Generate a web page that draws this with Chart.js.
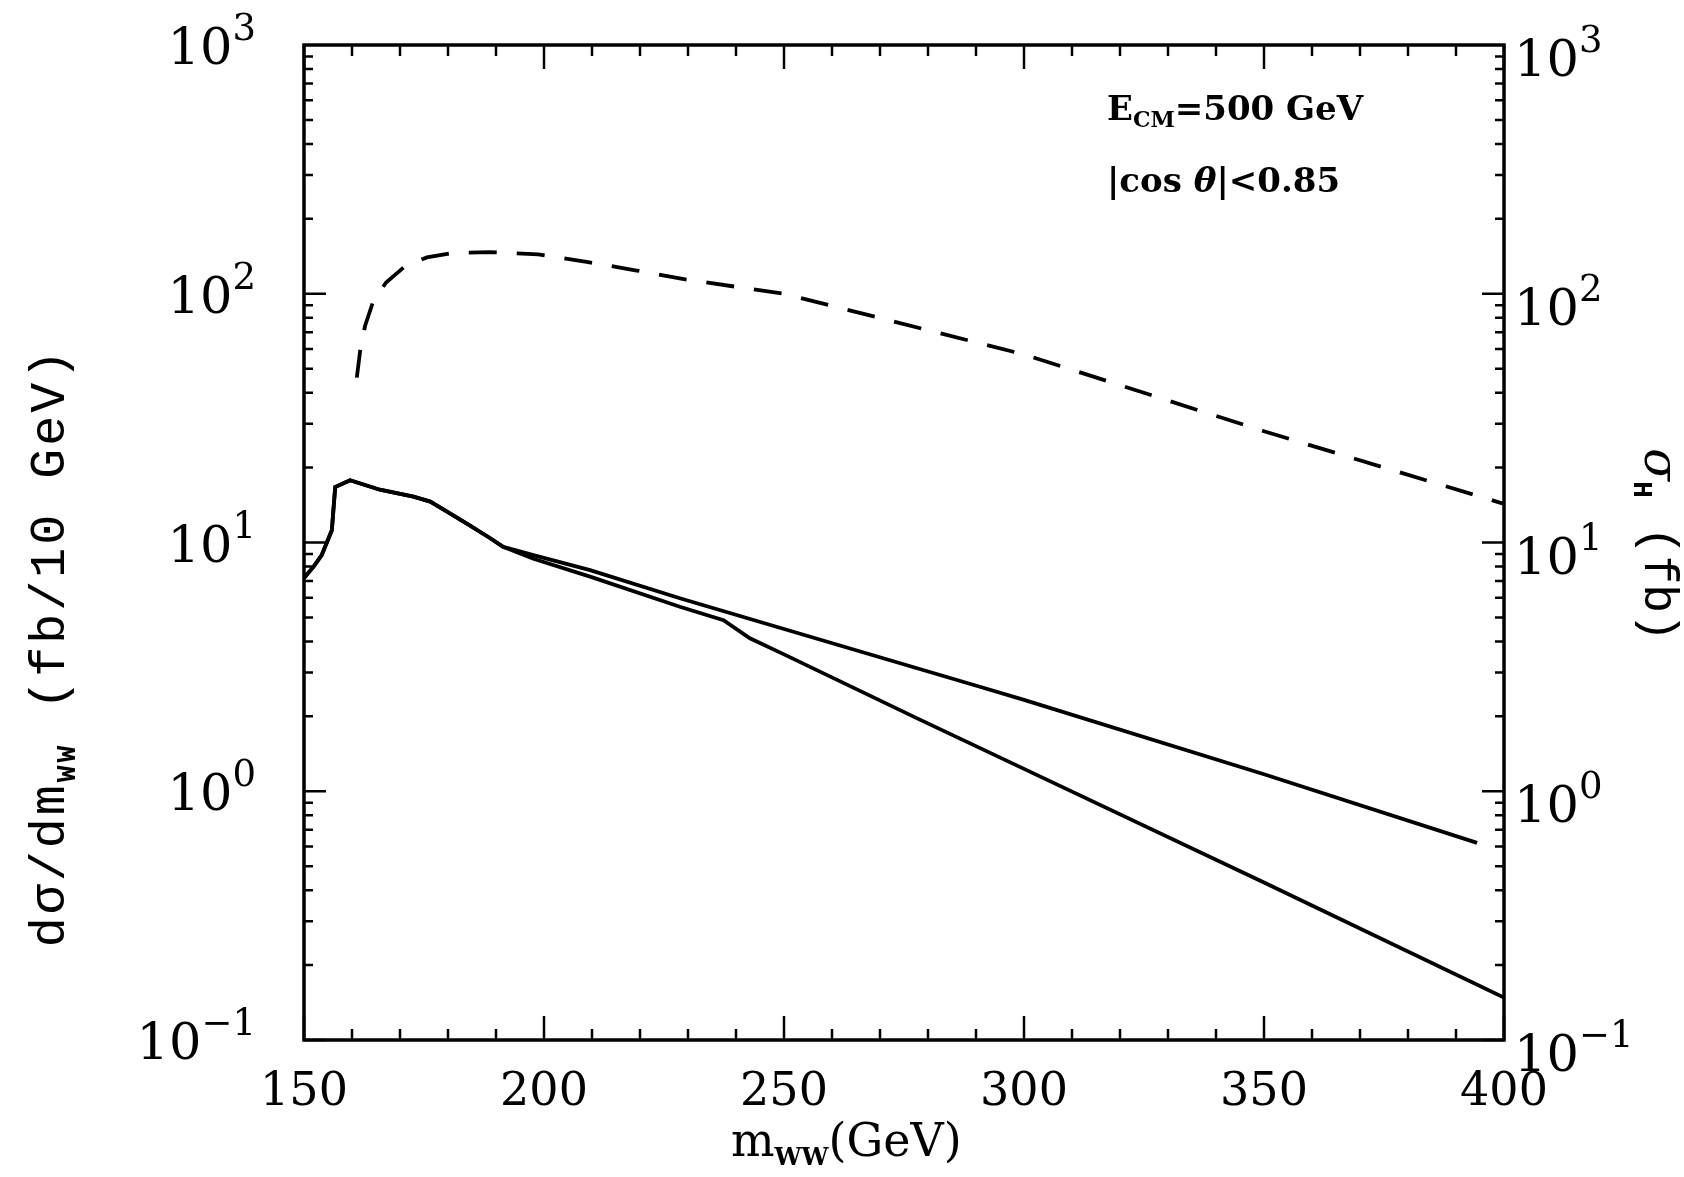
<!DOCTYPE html>
<html>
<head>
<meta charset="utf-8">
<script src="https://cdn.jsdelivr.net/npm/chart.js@4.4.1/dist/chart.umd.min.js"></script>
<style>
    html, body { margin: 0; padding: 0; background: #fff; }
    #wrap { width: 1684px; height: 1177px; }
</style>
</head>
<body>
<div id="wrap"><canvas id="ww_chart"></canvas></div>
<script>
// upper solid curve
var massUpper = [150, 152, 153.7, 155.8, 156.5, 159.6, 165.8, 172.8, 176.3, 180.4, 184.6, 188.8, 191.5, 197.8, 209.6, 228.3, 250, 290.8, 300, 350, 394.4];
var sigmaUpper = [7.2, 8.0, 8.9, 11.2, 16.7, 17.8, 16.3, 15.3, 14.6, 13.1, 11.7, 10.4, 9.6, 8.9, 7.74, 5.97, 4.49, 2.63, 2.33, 1.17, 0.62];

// lower solid curve
var massLower = [150, 152, 153.7, 155.8, 156.5, 159.6, 165.8, 172.8, 176.3, 180.4, 184.6, 188.8, 191.5, 197.8, 209.6, 228.3, 237.4, 242.9, 250, 278.3, 300, 350, 400];
var sigmaLower = [7.2, 8.0, 8.9, 11.2, 16.7, 17.8, 16.3, 15.3, 14.6, 13.1, 11.7, 10.4, 9.6, 8.6, 7.29, 5.52, 4.87, 4.12, 3.55, 1.94, 1.23, 0.43, 0.148];

// dashed curve (sigma_H, right axis)
var massHiggs = [161.0, 161.7, 162.7, 164.4, 167.1, 171.25, 175.6, 181.1, 188.75, 198.8, 209.2, 219.3, 229.7, 250, 300, 350, 400];
var sigmaHiggs = [46, 59, 74, 93, 111, 130, 140, 146, 147, 144, 134, 124, 114, 100, 57, 28, 14.3];

// axis ticks
var xTickValues = [150, 200, 250, 300, 350, 400];
var yTickExps = [-1, 0, 1, 2, 3];

function toPoints(xs, ys) {
    return xs.map(function (x, i) { return { x: x, y: ys[i] }; });
}

var serif = '"DejaVu Serif", serif';
var mono = '"Liberation Mono", "DejaVu Sans Mono", monospace';

// draws a run of text pieces (sub/superscripts) along the baseline
function drawRich(ctx, parts, x, y, align, spacing) {
    var total = 0;
    ctx.letterSpacing = (spacing || 0) + 'px';
    parts.forEach(function (p) {
        ctx.font = p.font;
        p.w = ctx.measureText(p.t).width;
        total += p.w;
    });
    var cx = x;
    if (align === 'center') cx = x - total / 2;
    if (align === 'right') cx = x - total;
    ctx.textAlign = 'left';
    ctx.textBaseline = 'alphabetic';
    parts.forEach(function (p) {
        ctx.font = p.font;
        ctx.fillText(p.t, cx, y + (p.dy || 0));
        cx += p.w;
    });
    ctx.letterSpacing = '0px';
}

function powParts(e) {
    var s = e < 0 ? '\u2212' + (-e) : String(e);
    return [
        { t: '10', font: '51px ' + serif },
        { t: s, font: '37px ' + serif, dy: -24 }
    ];
}

var framePlugin = {
    id: 'framePlugin',
    afterDraw: function (chart) {
        var ctx = chart.ctx;
        var a = chart.chartArea;
        var xs = chart.scales.x, yl = chart.scales.y, yr = chart.scales.y2;
        ctx.save();
        ctx.strokeStyle = '#000';
        ctx.fillStyle = '#000';
        ctx.lineWidth = 3.5;
        ctx.strokeRect(a.left, a.top, a.right - a.left, a.bottom - a.top);

        // x ticks, inward on top and bottom
        ctx.lineWidth = 2.5;
        ctx.beginPath();
        for (var m = 150; m <= 400; m += 10) {
            var px = xs.getPixelForValue(m);
            var len = (m % 50 === 0) ? 24 : 11;
            ctx.moveTo(px, a.bottom); ctx.lineTo(px, a.bottom - len);
            ctx.moveTo(px, a.top); ctx.lineTo(px, a.top + len);
        }
        // y ticks, inward on left and right
        for (var d = -1; d < 3; d++) {
            for (var k = 1; k < 10; k++) {
                var v = k * Math.pow(10, d);
                var pl = yl.getPixelForValue(v);
                var pr = yr.getPixelForValue(v);
                var ln = (k === 1) ? 22 : 9;
                ctx.moveTo(a.left, pl); ctx.lineTo(a.left + ln, pl);
                ctx.moveTo(a.right, pr); ctx.lineTo(a.right - ln, pr);
            }
        }
        ctx.stroke();

        // y tick labels
        yTickExps.forEach(function (e) {
            var v = Math.pow(10, e);
            drawRich(ctx, powParts(e), a.left - 48, yl.getPixelForValue(v) + 19, 'right');
            drawRich(ctx, powParts(e), a.right + 10, yr.getPixelForValue(v) + 31, 'left');
        });

        // x title
        drawRich(ctx, [
            { t: 'm', font: '46px ' + serif },
            { t: 'WW', font: 'bold 24px ' + serif, dy: 9 },
            { t: '(GeV)', font: '46px ' + serif }
        ], a.left + 427, a.bottom + 116, 'left');

        // left title
        ctx.save();
        ctx.translate(48, 647);
        ctx.rotate(-Math.PI / 2);
        drawRich(ctx, [
            { t: 'd\u03c3/dm', font: '50px ' + mono },
            { t: 'WW', font: 'bold 28px ' + mono, dy: 11 },
            { t: ' (fb/10 GeV)', font: '50px ' + mono }
        ], 0, 16, 'center', 3);
        ctx.restore();

        // right title
        ctx.save();
        ctx.translate(1661, 545);
        ctx.rotate(Math.PI / 2);
        drawRich(ctx, [
            { t: '\u03c3', font: 'italic 48px ' + serif },
            { t: 'H', font: 'bold 28px ' + mono, dy: 11 },
            { t: ' (fb)', font: '48px ' + mono }
        ], 0, 16, 'center');
        ctx.restore();

        // annotations
        drawRich(ctx, [
            { t: 'E', font: 'bold 34px ' + serif },
            { t: 'CM', font: 'bold 22px ' + serif, dy: 7 },
            { t: '=500 GeV', font: 'bold 34px ' + serif }
        ], 1107, 120, 'left');
        drawRich(ctx, [
            { t: '|cos ', font: 'bold 34px ' + serif },
            { t: '\u03b8', font: 'bold italic 34px ' + serif },
            { t: '|<0.85', font: 'bold 34px ' + serif }
        ], 1107, 192, 'left');
        ctx.restore();
    }
};

var ctxWW = document.getElementById('ww_chart').getContext('2d');
var wwChart = new Chart(ctxWW, {
    type: 'line',
    data: {
        datasets: [{
            label: 'upper',
            data: toPoints(massUpper, sigmaUpper),
            borderColor: '#000',
            borderWidth: 3.8,
            pointRadius: 0,
            tension: 0,
            yAxisID: 'y'
        }, {
            label: 'lower',
            data: toPoints(massLower, sigmaLower),
            borderColor: '#000',
            borderWidth: 3.8,
            pointRadius: 0,
            tension: 0,
            yAxisID: 'y'
        }, {
            label: 'sigma_H',
            data: toPoints(massHiggs, sigmaHiggs),
            borderColor: '#000',
            borderWidth: 3.8,
            borderDash: [28, 20],
            pointRadius: 0,
            tension: 0,
            yAxisID: 'y2'
        }]
    },
    options: {
        responsive: true,
        maintainAspectRatio: false,
        animation: false,
        devicePixelRatio: 1,
        layout: { padding: { top: 45, left: 0, right: 0, bottom: 0 } },
        plugins: {
            legend: { display: false },
            tooltip: { enabled: false }
        },
        scales: {
            x: {
                type: 'linear',
                min: 150,
                max: 400,
                afterBuildTicks: function (scale) {
                    scale.ticks = xTickValues.map(function (v) { return { value: v }; });
                },
                afterFit: function (scale) { scale.height = 137; },
                grid: { display: false, drawTicks: false },
                border: { display: false },
                ticks: {
                    color: '#000',
                    padding: 30,
                    maxRotation: 0,
                    font: { family: 'DejaVu Serif', size: 46, lineHeight: 1 }
                }
            },
            y: {
                type: 'logarithmic',
                position: 'left',
                min: 0.1,
                max: 1000,
                afterFit: function (scale) { scale.width = 304; },
                grid: { display: false },
                border: { display: false },
                ticks: { display: false }
            },
            y2: {
                type: 'logarithmic',
                position: 'right',
                min: 0.1,
                max: 1000,
                afterFit: function (scale) { scale.width = 180; },
                grid: { display: false },
                border: { display: false },
                ticks: { display: false }
            }
        }
    },
    plugins: [framePlugin]
});
</script>
</body>
</html>
